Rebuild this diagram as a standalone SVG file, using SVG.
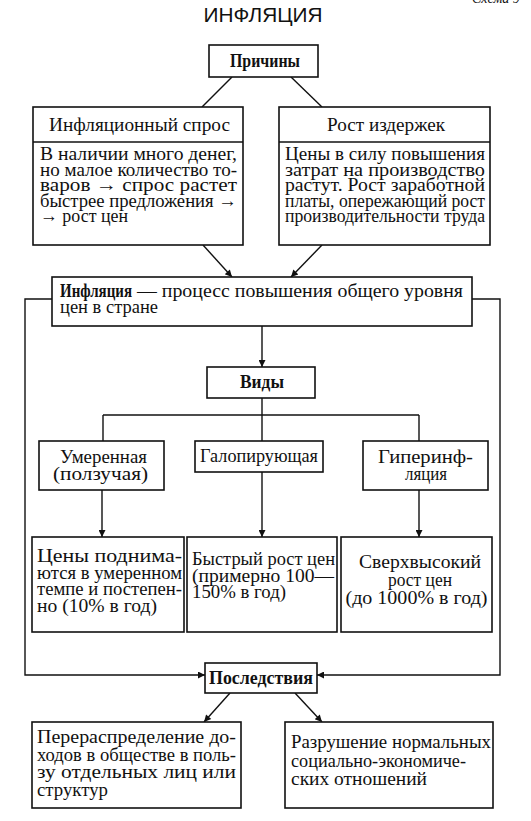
<svg xmlns="http://www.w3.org/2000/svg" width="531" height="821" viewBox="0 0 531 821">
<style>
rect{fill:#fff;stroke:#111;stroke-width:1.6}
line,polyline,path{stroke:#111;stroke-width:1.4;fill:none}
.t{font-family:"Liberation Serif","Times New Roman",serif;font-size:19px;fill:#111}
.b{font-family:"Liberation Serif","Times New Roman",serif;font-size:19px;font-weight:bold;fill:#111}
.c{text-anchor:middle}
.title{font-family:"Liberation Sans",Arial,sans-serif;font-size:20px;fill:#111;text-anchor:middle}
</style>
<defs>
<marker id="ah" viewBox="0 0 10 10" refX="10" refY="5" markerWidth="10" markerHeight="7" markerUnits="userSpaceOnUse" orient="auto">
<path d="M0,0 L10,5 L0,10 z" style="fill:#111;stroke:none"/>
</marker>
</defs>
<text class="title" x="263" y="22" textLength="119" lengthAdjust="spacingAndGlyphs">ИНФЛЯЦИЯ</text>
<text x="472" y="3" style="font-family:'Liberation Serif',serif;font-size:14px;font-style:italic;fill:#111">Схема 9</text>

<g id="connectors">
<line x1="232" y1="77" x2="202" y2="107"/>
<line x1="291" y1="77" x2="322" y2="107"/>
<line x1="203" y1="245" x2="232" y2="277" marker-end="url(#ah)"/>
<line x1="322" y1="245" x2="291" y2="277" marker-end="url(#ah)"/>
<polyline points="52,299 25,299 25,675 205,675" marker-end="url(#ah)"/>
<polyline points="472,299 500,299 500,675 317,675" marker-end="url(#ah)"/>
<line x1="262" y1="326" x2="262" y2="367" marker-end="url(#ah)"/>
<line x1="262" y1="398" x2="262" y2="441"/>
<line x1="103" y1="415" x2="419" y2="415"/>
<line x1="103" y1="415" x2="103" y2="441"/>
<line x1="419" y1="415" x2="419" y2="441"/>
<line x1="102" y1="490" x2="102" y2="537" marker-end="url(#ah)"/>
<line x1="262" y1="472" x2="262" y2="537" marker-end="url(#ah)"/>
<line x1="419" y1="490" x2="419" y2="537" marker-end="url(#ah)"/>
<line x1="230" y1="693" x2="204" y2="722" marker-end="url(#ah)"/>
<line x1="295" y1="693" x2="322" y2="722" marker-end="url(#ah)"/>
</g>

<g id="prichiny">
<rect x="209" y="45" width="109" height="32"/>
<text class="b c" x="265" y="67" textLength="70" lengthAdjust="spacingAndGlyphs">Причины</text>
</g>

<g id="spros">
<rect x="33" y="107" width="210" height="138"/>
<line x1="33" y1="142" x2="243" y2="142"/>
<text class="t c" x="139.5" y="131" textLength="181" lengthAdjust="spacingAndGlyphs">Инфляционный спрос</text>
<text class="t" x="40" y="160" textLength="197" lengthAdjust="spacingAndGlyphs">В наличии много денег,</text>
<text class="t" x="40" y="175.5" textLength="197" lengthAdjust="spacingAndGlyphs">но малое количество то-</text>
<text class="t" x="40" y="191" textLength="197" lengthAdjust="spacingAndGlyphs">варов → спрос растет</text>
<text class="t" x="40" y="206.5" textLength="197" lengthAdjust="spacingAndGlyphs">быстрее предложения →</text>
<text class="t" x="40" y="222" textLength="88" lengthAdjust="spacingAndGlyphs">→ рост цен</text>
</g>

<g id="izderzhki">
<rect x="279" y="107" width="211" height="138"/>
<line x1="279" y1="142" x2="490" y2="142"/>
<text class="t c" x="386" y="131" textLength="118" lengthAdjust="spacingAndGlyphs">Рост издержек</text>
<text class="t" x="285" y="160" textLength="200" lengthAdjust="spacingAndGlyphs">Цены в силу повышения</text>
<text class="t" x="285" y="175.5" textLength="200" lengthAdjust="spacingAndGlyphs">затрат на производство</text>
<text class="t" x="285" y="191" textLength="200" lengthAdjust="spacingAndGlyphs">растут. Рост заработной</text>
<text class="t" x="285" y="206.5" textLength="200" lengthAdjust="spacingAndGlyphs">платы, опережающий рост</text>
<text class="t" x="285" y="222" textLength="200" lengthAdjust="spacingAndGlyphs">производительности труда</text>
</g>

<g id="inflyaciya">
<rect x="52" y="277" width="420" height="49"/>
<text class="b" x="60" y="297" textLength="72" lengthAdjust="spacingAndGlyphs">Инфляция</text>
<text class="t" x="137" y="297" textLength="326" lengthAdjust="spacingAndGlyphs">— процесс повышения общего уровня</text>
<text class="t" x="60" y="313" textLength="98" lengthAdjust="spacingAndGlyphs">цен в стране</text>
</g>

<g id="vidy">
<rect x="207" y="367" width="108" height="31"/>
<text class="b c" x="262" y="388" textLength="44" lengthAdjust="spacingAndGlyphs">Виды</text>
</g>

<g id="umerennaya">
<rect x="39" y="441" width="125" height="49"/>
<text class="t c" x="103.5" y="463" textLength="87" lengthAdjust="spacingAndGlyphs">Умеренная</text>
<text class="t c" x="100.5" y="480" textLength="95" lengthAdjust="spacingAndGlyphs">(ползучая)</text>
</g>

<g id="galop">
<rect x="195" y="441" width="128" height="31"/>
<text class="t c" x="259" y="462" textLength="118" lengthAdjust="spacingAndGlyphs">Галопирующая</text>
</g>

<g id="giper">
<rect x="363" y="441" width="125" height="49"/>
<text class="t c" x="425.5" y="463" textLength="95" lengthAdjust="spacingAndGlyphs">Гиперинф-</text>
<text class="t c" x="426" y="480" textLength="42" lengthAdjust="spacingAndGlyphs">ляция</text>
</g>

<g id="umer-desc">
<rect x="32" y="537" width="152" height="95"/>
<text class="t" x="37" y="562" textLength="145" lengthAdjust="spacingAndGlyphs">Цены поднима-</text>
<text class="t" x="37" y="578.5" textLength="145" lengthAdjust="spacingAndGlyphs">ются в умеренном</text>
<text class="t" x="37" y="595" textLength="145" lengthAdjust="spacingAndGlyphs">темпе и постепен-</text>
<text class="t" x="37" y="611.5" textLength="120" lengthAdjust="spacingAndGlyphs">но (10% в год)</text>
</g>

<g id="galop-desc">
<rect x="187" y="537" width="150" height="95"/>
<text class="t" x="192" y="565" textLength="143" lengthAdjust="spacingAndGlyphs">Быстрый рост цен</text>
<text class="t" x="192" y="581.5" textLength="142" lengthAdjust="spacingAndGlyphs">(примерно 100—</text>
<text class="t" x="192" y="598" textLength="94" lengthAdjust="spacingAndGlyphs">150% в год)</text>
</g>

<g id="giper-desc">
<rect x="341" y="537" width="151" height="95"/>
<text class="t c" x="420" y="568" textLength="122" lengthAdjust="spacingAndGlyphs">Сверхвысокий</text>
<text class="t c" x="420" y="586" textLength="64" lengthAdjust="spacingAndGlyphs">рост цен</text>
<text class="t c" x="416.5" y="604" textLength="142" lengthAdjust="spacingAndGlyphs">(до 1000% в год)</text>
</g>

<g id="posledstviya">
<rect x="205" y="663" width="112" height="30"/>
<text class="b c" x="261" y="684" textLength="104" lengthAdjust="spacingAndGlyphs">Последствия</text>
</g>

<g id="pereraspr">
<rect x="32" y="722" width="209" height="86"/>
<text class="t" x="37" y="743" textLength="199" lengthAdjust="spacingAndGlyphs">Перераспределение до-</text>
<text class="t" x="37" y="760.5" textLength="199" lengthAdjust="spacingAndGlyphs">ходов в обществе в поль-</text>
<text class="t" x="37" y="778" textLength="199" lengthAdjust="spacingAndGlyphs">зу отдельных лиц или</text>
<text class="t" x="37" y="795.5" textLength="71" lengthAdjust="spacingAndGlyphs">структур</text>
</g>

<g id="razrushenie">
<rect x="285" y="722" width="208" height="86"/>
<text class="t" x="291" y="748" textLength="200" lengthAdjust="spacingAndGlyphs">Разрушение нормальных</text>
<text class="t" x="291" y="766.5" textLength="175" lengthAdjust="spacingAndGlyphs">социально-экономиче-</text>
<text class="t" x="291" y="785" textLength="136" lengthAdjust="spacingAndGlyphs">ских отношений</text>
</g>
</svg>
